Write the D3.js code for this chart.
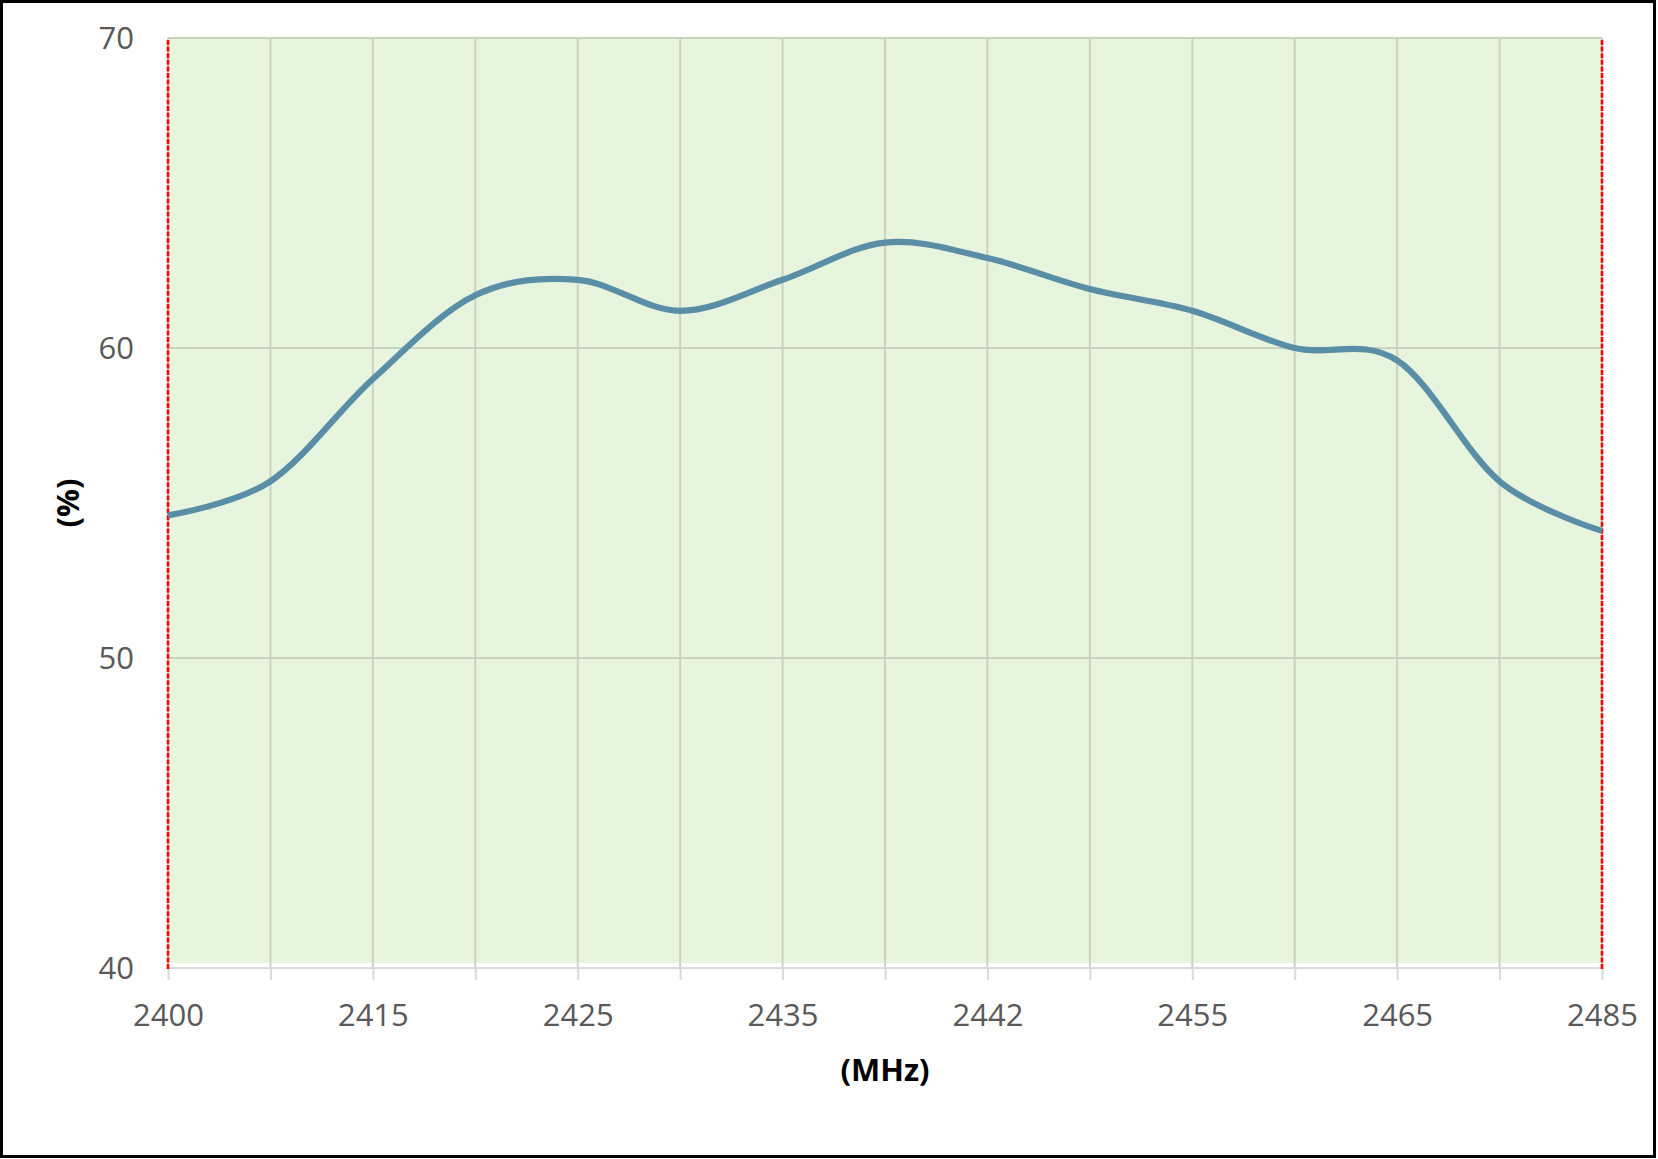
<!DOCTYPE html>
<html>
<head>
<meta charset="utf-8">
<script src="https://cdn.jsdelivr.net/npm/d3@7"></script>
<style>
  html, body { margin: 0; padding: 0; background: #fff; }
  svg { display: block; }
</style>
</head>
<body>
<svg id="chart" width="1658" height="1159"></svg>
<script>
// ---- data ----
const categories = ["2400","2410","2415","2420","2425","2430","2435","2440","2442","2450","2455","2460","2465","2475","2485"];
const shownLabels = ["2400","2415","2425","2435","2442","2455","2465","2485"];
const values = [54.6, 55.7, 59.0, 61.7, 62.2, 61.2, 62.2, 63.4, 62.9, 61.9, 61.2, 60.0, 59.6, 55.7, 54.1];
const yTicks = [40, 50, 60, 70];
const yDomain = [40, 70];
const xTitle = "(MHz)";
const yTitle = "(%)";

// ---- layout ----
const W = 1658, H = 1159;
const mLeft = 168, mRight = 1602, mTop = 38, mBottom = 968;
const svg = d3.select("#chart");

const x = d3.scalePoint().domain(categories).range([mLeft, mRight]);
const y = d3.scaleLinear().domain(yDomain).range([mBottom, mTop]);

// outer frame
svg.append("rect").attr("x", 1.5).attr("y", 1.5).attr("width", W - 5).attr("height", H - 4)
  .attr("fill", "#fff").attr("stroke", "#000").attr("stroke-width", 3);

// plot background
svg.append("rect").attr("x", mLeft).attr("y", mTop).attr("width", mRight - mLeft).attr("height", mBottom - 5 - mTop)
  .attr("fill", "#e8f5de");

// horizontal gridlines
svg.append("g").selectAll("line").data(yTicks.filter(t => t !== yDomain[0])).join("line")
  .attr("x1", mLeft).attr("x2", mRight)
  .attr("y1", d => y(d)).attr("y2", d => y(d))
  .attr("stroke", "#c9d4c0").attr("stroke-width", 2);

// vertical gridlines
svg.append("g").selectAll("line").data(categories).join("line")
  .attr("x1", d => x(d)).attr("x2", d => x(d))
  .attr("y1", mTop).attr("y2", mBottom)
  .attr("stroke", "#c9d4c0").attr("stroke-width", 2);

// x axis (line + ticks)
const xAxis = d3.axisBottom(x).tickSize(12).tickFormat(d => shownLabels.includes(d) ? d : "");
const gx = svg.append("g").attr("transform", `translate(0,${mBottom})`).call(xAxis);
gx.select(".domain").attr("stroke", "#d9d9d9").attr("stroke-width", 2)
  .attr("d", `M${mLeft},0H${mRight}`);
gx.selectAll(".tick line").attr("stroke", "#d9d9d9").attr("stroke-width", 2);
gx.selectAll(".tick text")
  .attr("y", 58).attr("dy", null)
  .attr("font-family", "'Open Sans', sans-serif").attr("font-size", 31)
  .attr("fill", "#595959");

// y axis labels
const yAxis = d3.axisLeft(y).tickValues(yTicks).tickSize(0).tickPadding(34);
const gy = svg.append("g").attr("transform", `translate(${mLeft},0)`).call(yAxis);
gy.select(".domain").remove();
gy.selectAll(".tick text")
  .attr("font-family", "'Open Sans', sans-serif").attr("font-size", 31)
  .attr("fill", "#595959").attr("dy", "0.35em");

// red dashed band limits
svg.append("g").selectAll("line").data([categories[0], categories[categories.length - 1]]).join("line")
  .attr("x1", d => x(d)).attr("x2", d => x(d))
  .attr("y1", mTop + 2).attr("y2", mBottom + 2)
  .attr("stroke", "#ff0000").attr("stroke-width", 2.6).attr("stroke-dasharray", "5,1.6");

// series line
const line = d3.line()
  .x((d, i) => x(categories[i]))
  .y(d => y(d))
  .curve(d3.curveCardinal.tension(0));
svg.append("path").datum(values)
  .attr("d", line)
  .attr("fill", "none").attr("stroke", "#5a8ea7").attr("stroke-width", 6.2)
  .attr("stroke-linejoin", "round").attr("stroke-linecap", "butt");

// axis titles
svg.append("text").attr("x", (mLeft + mRight) / 2).attr("y", 1081)
  .attr("text-anchor", "middle")
  .attr("font-family", "'Open Sans', sans-serif").attr("font-weight", "bold").attr("font-size", 31)
  .attr("fill", "#000").text(xTitle);

svg.append("text").attr("transform", "translate(79,503) rotate(-90)")
  .attr("text-anchor", "middle")
  .attr("font-family", "'Open Sans', sans-serif").attr("font-weight", "bold").attr("font-size", 31)
  .attr("fill", "#000").text(yTitle);
</script>
</body>
</html>
